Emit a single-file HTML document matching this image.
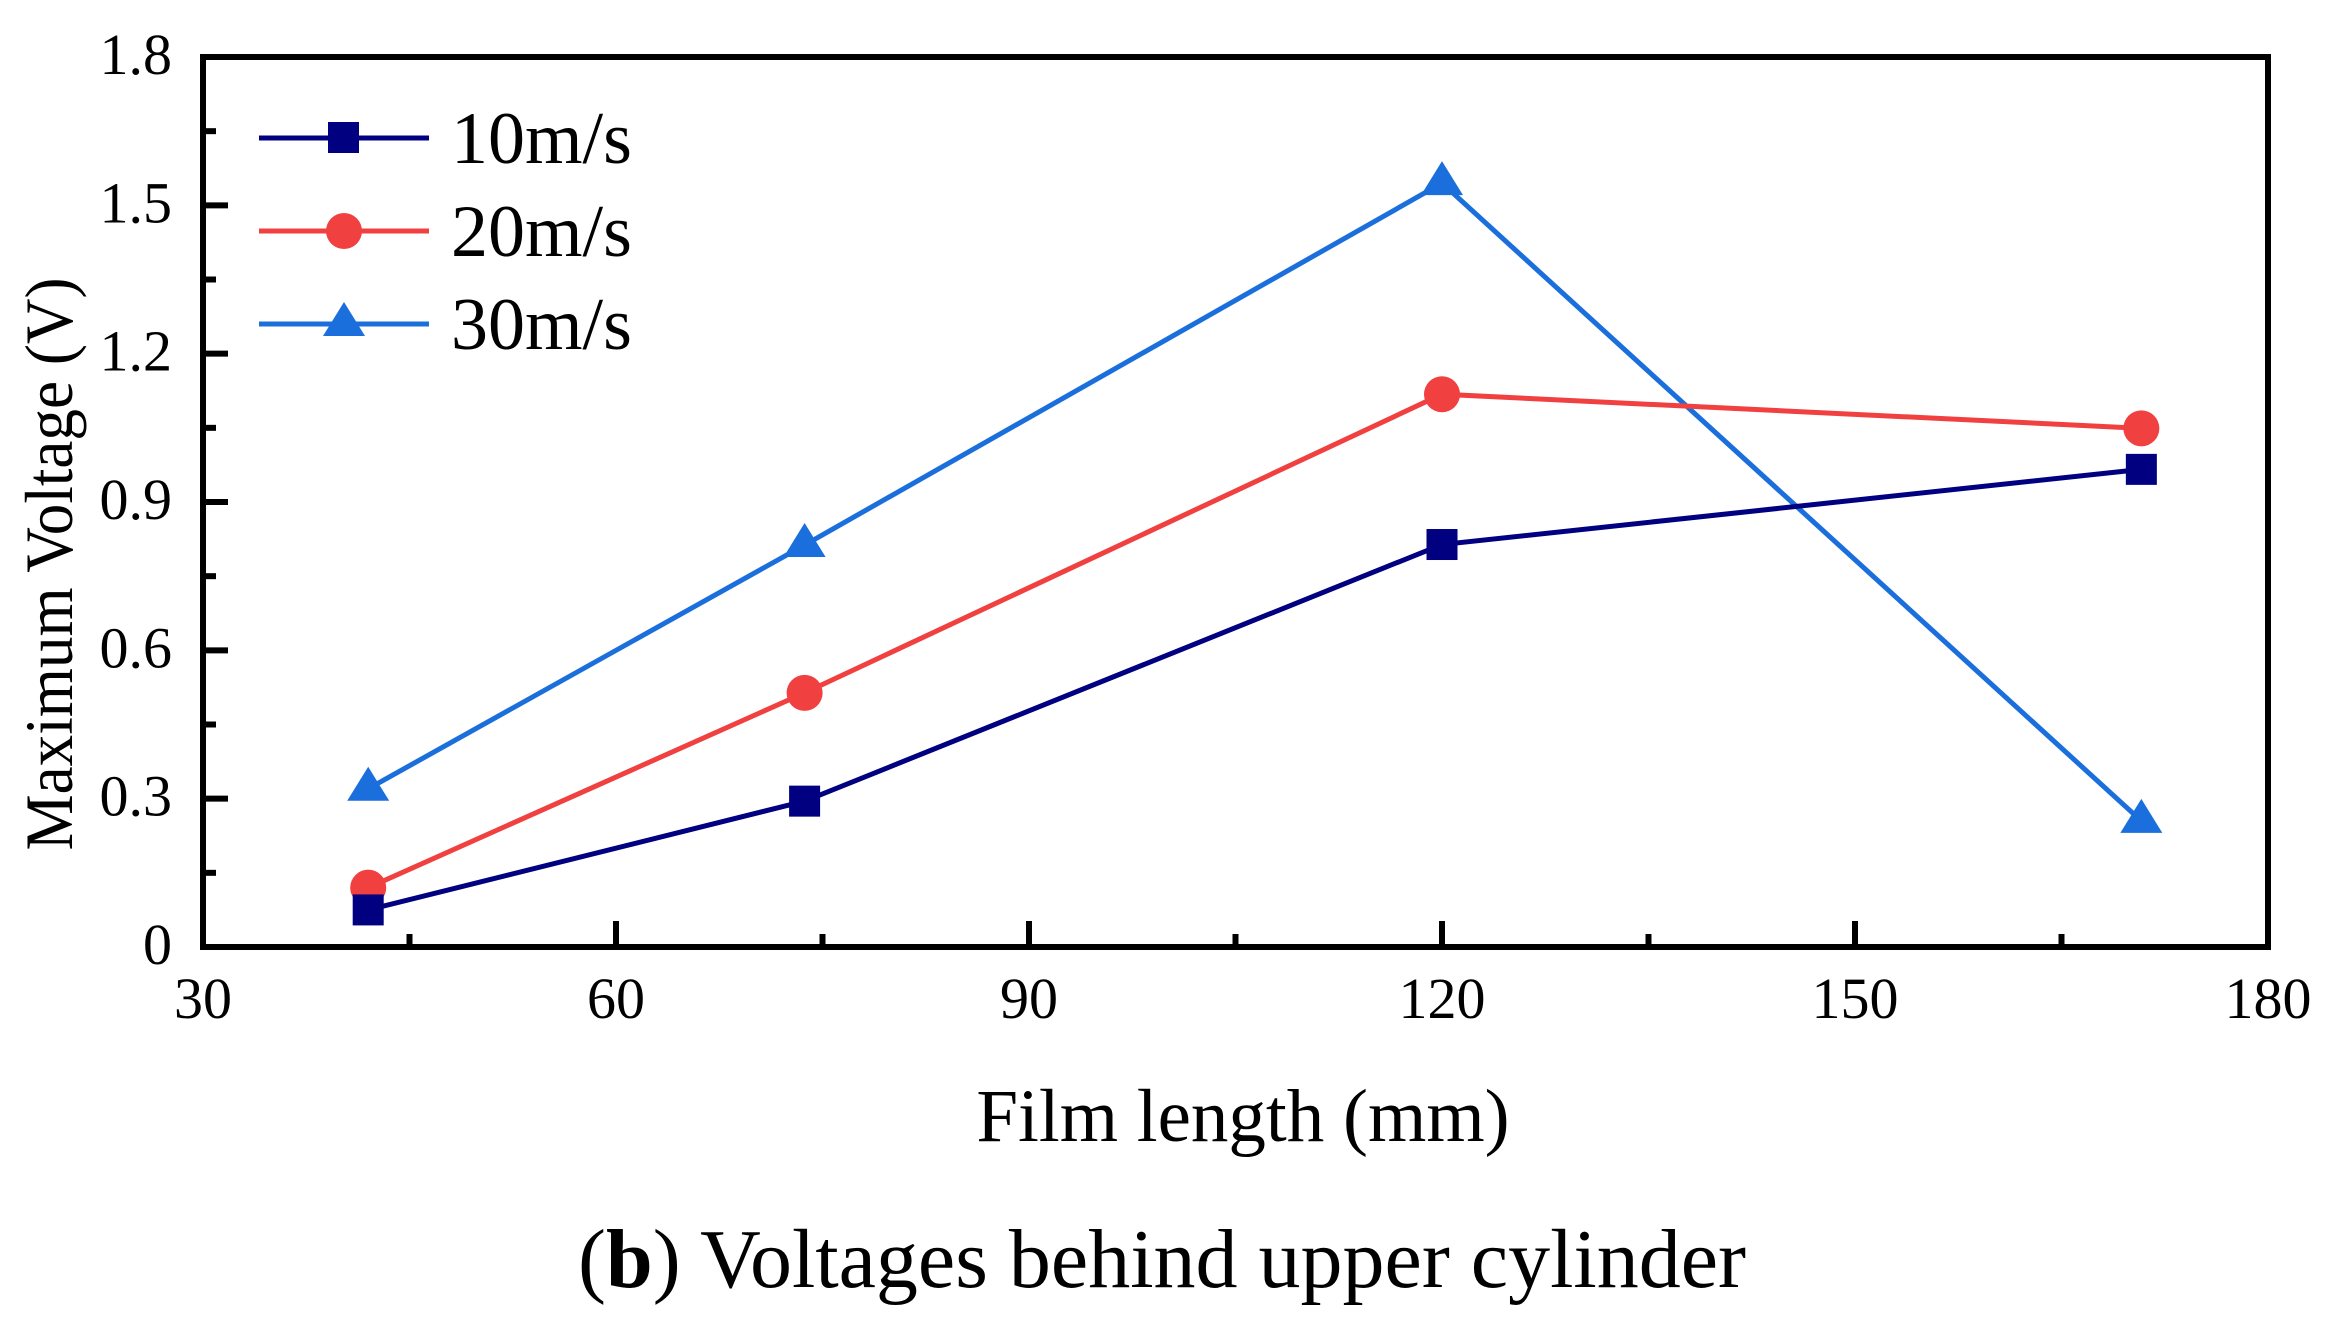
<!DOCTYPE html>
<html><head><meta charset="utf-8"><style>
html,body{margin:0;padding:0;background:#fff;}
svg{display:block;font-family:"Liberation Serif",serif;}
</style></head><body>
<svg id="chart" width="2335" height="1328" viewBox="0 0 2335 1328" xmlns="http://www.w3.org/2000/svg">
<g id="marks"></g>
<g id="axes"></g>
<g id="legend">
  <g>
    <line x1="259" y1="138" x2="429" y2="138" stroke="#000080" stroke-width="5"/>
    <rect x="328" y="122" width="31" height="31" fill="#000080"/>
    <text x="451" y="163" font-size="74">10m/s</text>
  </g>
  <g>
    <line x1="259" y1="231" x2="429" y2="231" stroke="#f04040" stroke-width="5"/>
    <circle cx="344" cy="231" r="18" fill="#f04040"/>
    <text x="451" y="256" font-size="74">20m/s</text>
  </g>
  <g>
    <line x1="259" y1="324" x2="429" y2="324" stroke="#1a6fdc" stroke-width="5"/>
    <polygon points="344,302 365,336 323,336" fill="#1a6fdc"/>
    <text x="451" y="349" font-size="74">30m/s</text>
  </g>
</g>
<text x="1243" y="1141" font-size="75" text-anchor="middle">Film length (mm)</text>
<text transform="translate(72,564) rotate(-90)" font-size="68" text-anchor="middle" textLength="573" lengthAdjust="spacingAndGlyphs">Maximum Voltage (V)</text>
<text x="1162" y="1287" font-size="84" text-anchor="middle">(<tspan font-weight="bold">b</tspan>) Voltages behind upper cylinder</text>
</svg>
<script>
const xValues = [42, 73.7, 120, 170.8];
const series10 = [0.075, 0.295, 0.814, 0.966];
const series20 = [0.12, 0.514, 1.118, 1.049];
const series30 = [0.32, 0.813, 1.545, 0.255];
const xTicks = [30, 60, 90, 120, 150, 180];
const yTicks = [0, 0.3, 0.6, 0.9, 1.2, 1.5, 1.8];
const yTickLabels = ["0", "0.3", "0.6", "0.9", "1.2", "1.5", "1.8"];

const L = 203, R = 2268, T = 57, B = 947;
function sx(v){ return L + (v - 30) / 150 * (R - L); }
function sy(v){ return B - v / 1.8 * (B - T); }
const NS = "http://www.w3.org/2000/svg";
function mk(tag, attrs, parent){
  const e = document.createElementNS(NS, tag);
  for (const k in attrs) e.setAttribute(k, attrs[k]);
  parent.appendChild(e);
  return e;
}
const axes = document.getElementById('axes');
const marks = document.getElementById('marks');

const frame = mk('rect', {x:L, y:T, width:R-L, height:B-T, fill:'none', stroke:'#000', 'stroke-width':6}, axes);



xTicks.forEach((t, i) => {
  const x = sx(t);
  const tk = mk('line', {x1:x, y1:B, x2:x, y2:B-26, stroke:'#000', 'stroke-width':6}, axes);
  
  
  if (i < xTicks.length - 1) {
    const mx = sx(t + 15);
    const mt = mk('line', {x1:mx, y1:B, x2:mx, y2:B-13, stroke:'#000', 'stroke-width':6}, axes);
    
    
  }
  const lb = mk('text', {x:x, y:1018, 'font-size':58, 'text-anchor':'middle'}, axes);
  lb.textContent = String(t);
  
  
});
yTicks.forEach((t, i) => {
  const y = sy(t);
  const tk = mk('line', {x1:L, y1:y, x2:L+25, y2:y, stroke:'#000', 'stroke-width':6}, axes);
  
  
  if (i < yTicks.length - 1) {
    const my = sy(t + 0.15);
    const mt = mk('line', {x1:L, y1:my, x2:L+13, y2:my, stroke:'#000', 'stroke-width':6}, axes);
    
    
  }
  const lb = mk('text', {x:172, y:y+17, 'font-size':58, 'text-anchor':'end'}, axes);
  lb.textContent = yTickLabels[i];
  
  
});

function drawSeries(vals, color, shape, name){
  const g = mk('g', {}, marks);
  
  
  const pts = vals.map((v, i) => sx(xValues[i]) + ',' + sy(v)).join(' ');
  const pl = mk('polyline', {points:pts, fill:'none', stroke:color, 'stroke-width':5}, g);
  
  
  vals.forEach((v, i) => {
    const x = sx(xValues[i]), y = sy(v);
    let m;
    if (shape === 'square') m = mk('rect', {x:x-15.5, y:y-15.5, width:31, height:31, fill:color}, g);
    else if (shape === 'circle') m = mk('circle', {cx:x, cy:y, r:18, fill:color}, g);
    else m = mk('polygon', {points:(x)+','+(y-22)+' '+(x+21)+','+(y+12)+' '+(x-21)+','+(y+12), fill:color}, g);
    
    
  });
}
drawSeries(series30, '#1a6fdc', 'triangle', 'series-30ms');
drawSeries(series20, '#f04040', 'circle', 'series-20ms');
drawSeries(series10, '#000080', 'square', 'series-10ms');
</script>
</body></html>
